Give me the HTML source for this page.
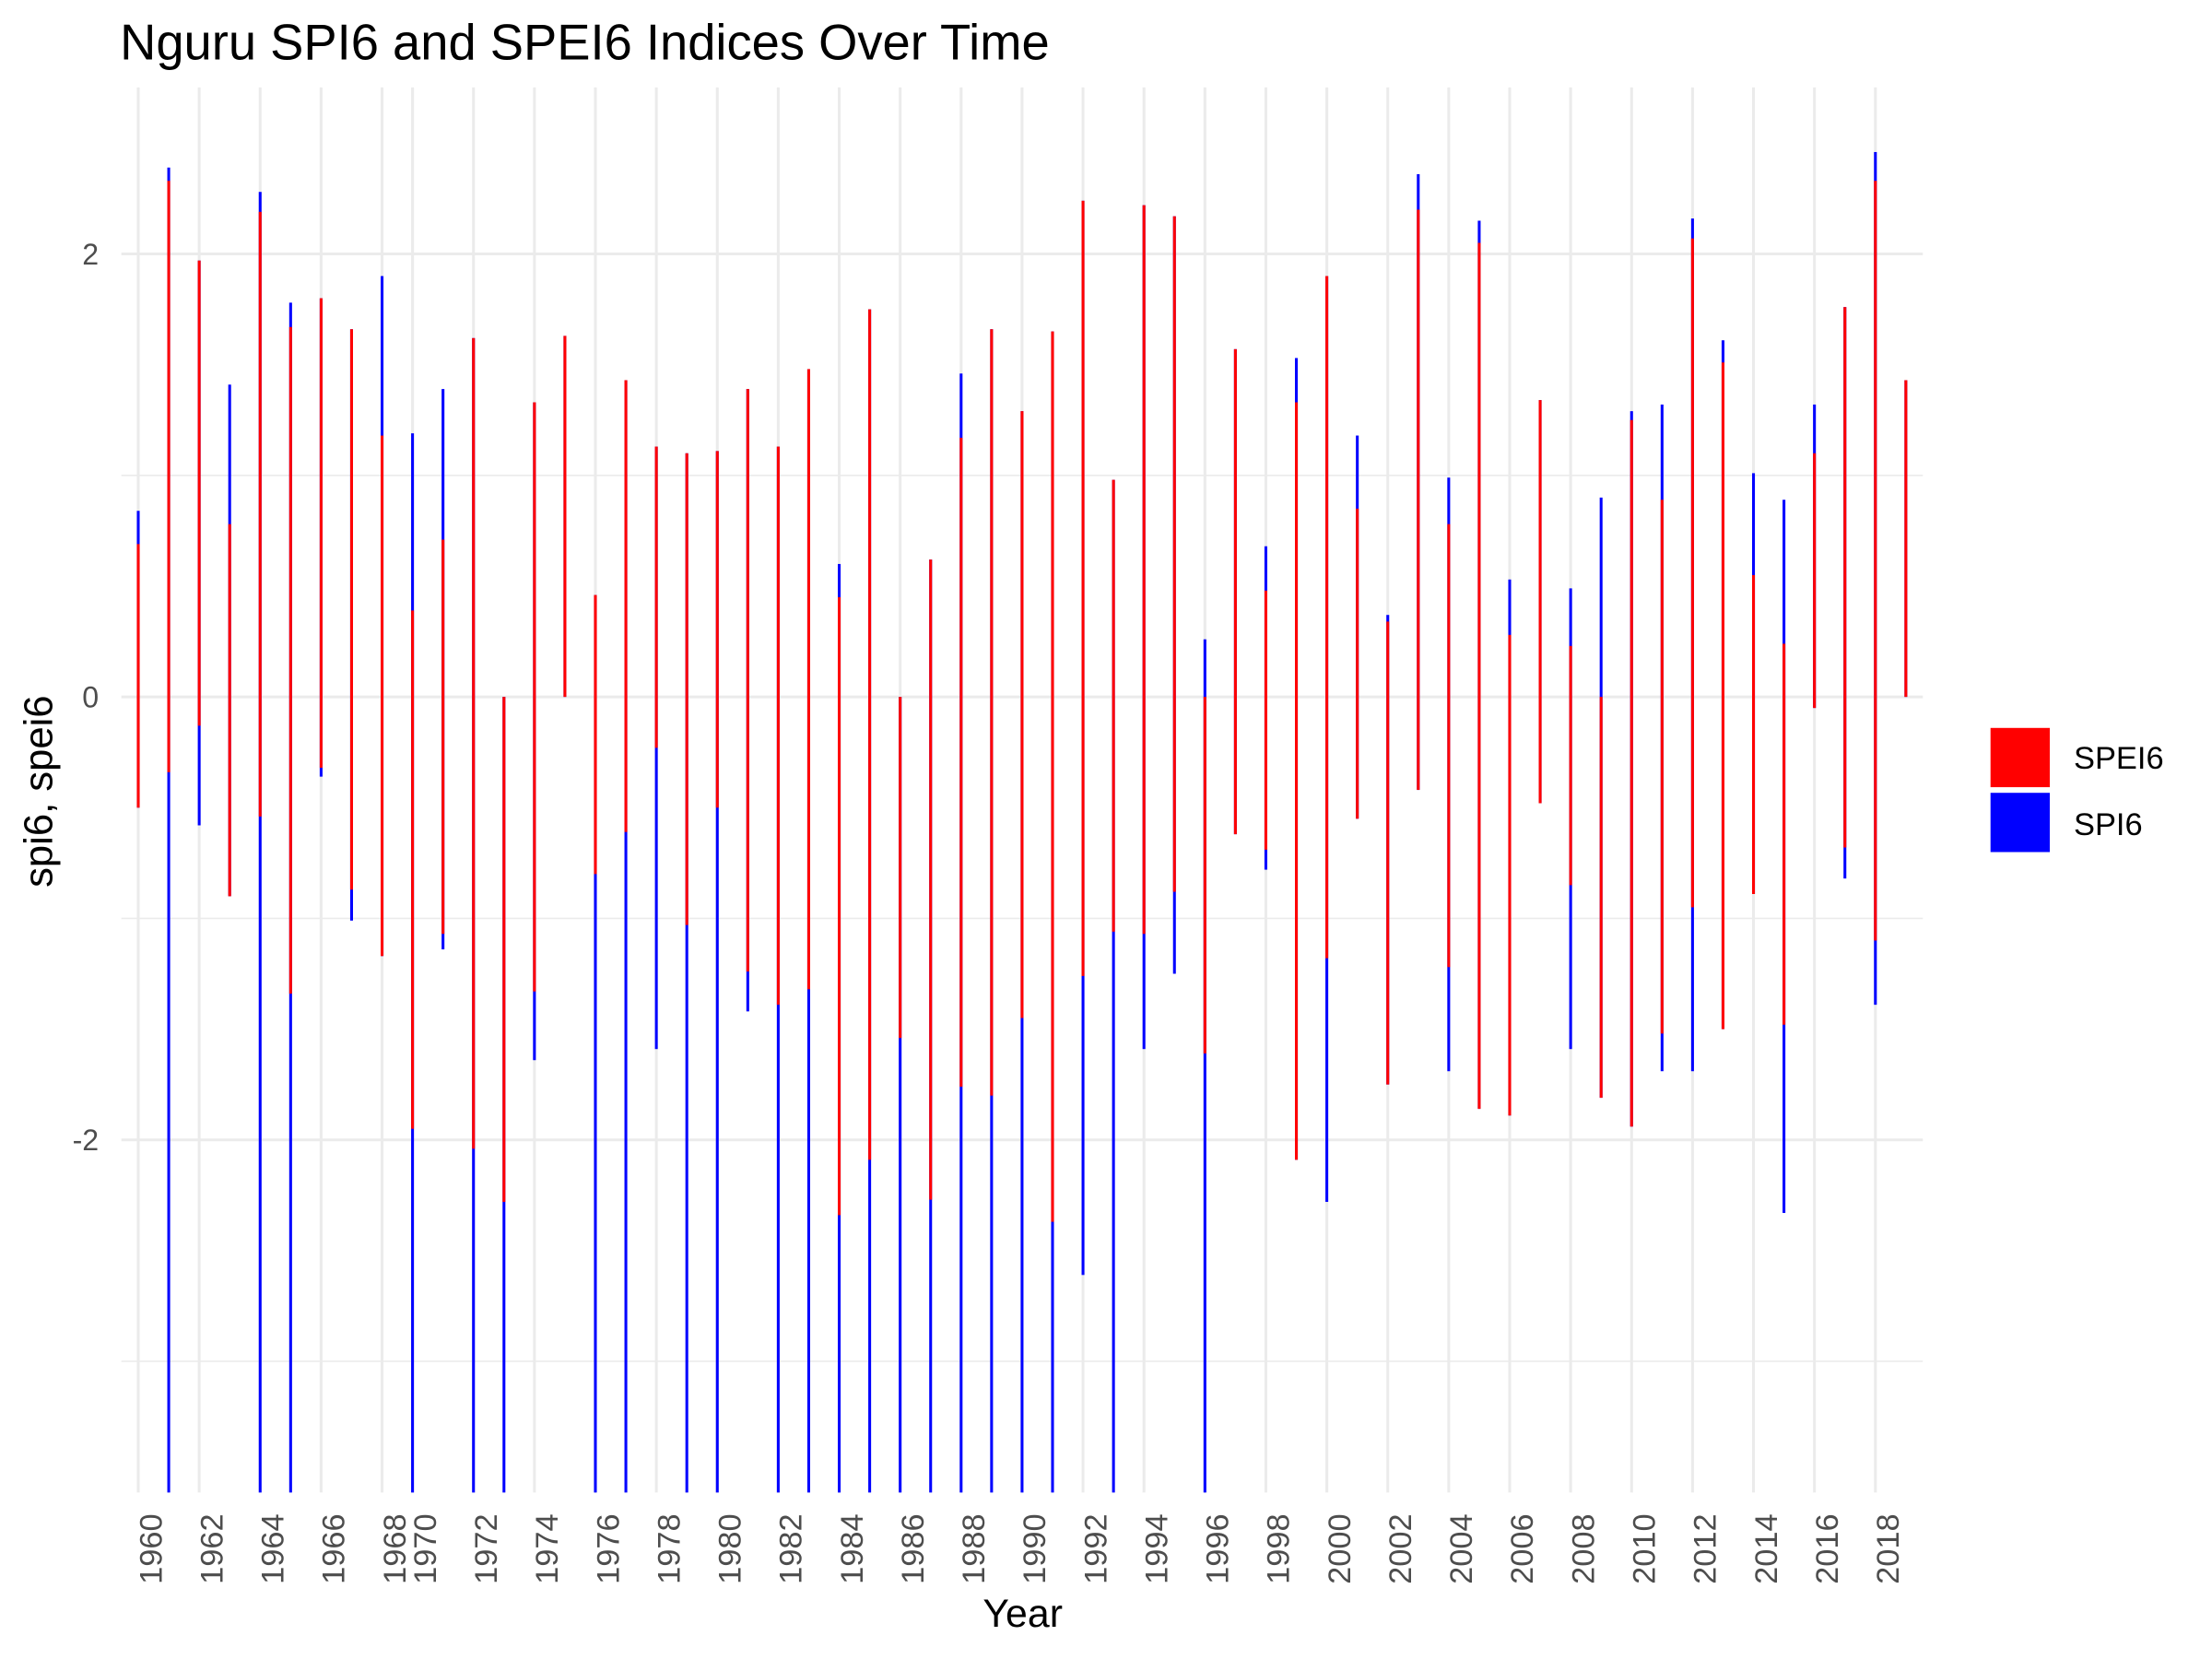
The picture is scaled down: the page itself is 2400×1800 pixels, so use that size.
<!DOCTYPE html>
<html><head><meta charset="utf-8"><style>
html,body{margin:0;padding:0;background:#fff;}
svg{display:block;font-family:"Liberation Sans",Arial,sans-serif;}
</style></head><body>
<svg width="2400" height="1800" viewBox="0 0 1568 1176" xmlns="http://www.w3.org/2000/svg">
<defs><clipPath id="pc"><rect x="86" y="62" width="1277" height="996"/></clipPath></defs>
<text x="85" y="42" font-size="35.5" fill="#000">Nguru SPI6 and SPEI6 Indices Over Time</text>
<g id="grid"></g>
<g id="bars" clip-path="url(#pc)"></g>
<g id="yticks"></g>
<g id="xticks"></g>
<text transform="translate(37,561) rotate(-90)" text-anchor="middle" font-size="28.5" fill="#000">spi6, spei6</text>
<text x="725" y="1153" text-anchor="middle" font-size="28" fill="#000">Year</text>
<g>
<rect x="1411" y="516" width="42" height="42" fill="#ff0000"/>
<text x="1470" y="545" font-size="22.5" fill="#000">SPEI6</text>
<rect x="1411" y="562" width="42" height="42" fill="#0000ff"/>
<text x="1470" y="592" font-size="22.5" fill="#000">SPI6</text>
</g>
</svg>
<script>
const speiHi=[0.69,2.33,1.97,0.78,2.19,1.67,1.80,1.66,1.18,0.39,0.71,1.62,0,1.33,1.63,0.46,1.43,1.13,1.10,1.11,1.39,1.13,1.48,0.45,1.75,0,0.62,1.17,1.66,1.29,1.65,2.24,0.98,2.22,2.17,0,1.57,0.48,1.33,1.90,0.85,0.34,2.20,0.78,2.05,0.28,1.34,0.23,0,1.25,0.89,2.07,1.51,0.55,0.24,1.10,1.76,2.33,1.43];
const speiLo=[-0.50,-0.34,-0.13,-0.90,-0.54,-1.34,-0.32,-0.87,-1.17,-1.95,-1.07,-2.04,-2.28,-1.33,0,-0.80,-0.61,-0.23,-1.03,-0.50,-1.24,-1.39,-1.32,-2.34,-2.09,-1.54,-2.27,-1.76,-1.80,-1.45,-2.37,-1.26,-1.06,-1.07,-0.88,-1.61,-0.62,-0.69,-2.09,-1.18,-0.55,-1.75,-0.42,-1.22,-1.86,-1.89,-0.48,-0.85,-1.81,-1.94,-1.52,-0.95,-1.50,-0.89,-1.48,-0.05,-0.68,-1.10,0];
const spiHi=[0.84,2.39,1.97,1.41,2.28,1.78,1.80,1.66,1.90,1.19,1.39,1.62,0,1.33,1.63,0.46,1.43,1.13,1.10,1.11,1.39,1.13,1.48,0.60,1.75,0,0.62,1.46,1.66,1.29,1.65,2.24,0.98,2.22,2.17,0.26,1.57,0.68,1.53,1.90,1.18,0.37,2.36,0.99,2.15,0.53,1.34,0.49,0.90,1.29,1.32,2.16,1.61,1.01,0.89,1.32,1.76,2.46,1.43];
const spiLo=[-0.50,-4,-0.58,-0.90,-4,-4,-0.36,-1.01,-1.17,-4,-1.14,-4,-4,-1.64,0,-4,-4,-1.59,-4,-4,-1.42,-4,-4,-4,-4,-4,-4,-4,-4,-4,-4,-2.61,-4,-1.59,-1.25,-4,-0.62,-0.78,-2.09,-2.28,-0.55,-1.75,-0.42,-1.69,-1.86,-1.89,-0.48,-1.59,-1.81,-1.94,-1.69,-1.69,-1.50,-0.89,-2.33,-0.05,-0.82,-1.39,0];
const xTickIdx=[0,2,4,6,8,9,11,13,15,17,19,21,23,25,27,29,31,33,35,37,39,41,43,45,47,49,51,53,55,57];
const xTickLabels=["1960","1962","1964","1966","1968","1970","1972","1974","1976","1978","1980","1982","1984","1986","1988","1990","1992","1994","1996","1998","2000","2002","2004","2006","2008","2010","2012","2014","2016","2018"];
const yTicks=[-2,0,2];
const yMinor=[-3,-1,1];

const NS="http://www.w3.org/2000/svg";
const xS=i=>98+i*(1351-98)/58;
const yS=v=>494-v*157;
function mk(tag,attrs,parent){const e=document.createElementNS(NS,tag);for(const k in attrs)e.setAttribute(k,attrs[k]);parent.appendChild(e);return e;}
const grid=document.getElementById('grid'),bars=document.getElementById('bars');
yMinor.forEach(v=>{const l=mk('line',{x1:86,x2:1363,y1:yS(v),y2:yS(v),stroke:'#ebebeb','stroke-width':1},grid);

});
yTicks.forEach(v=>{const l=mk('line',{x1:86,x2:1363,y1:yS(v),y2:yS(v),stroke:'#ebebeb','stroke-width':2},grid);

});
xTickIdx.forEach(i=>{const l=mk('line',{x1:xS(i),x2:xS(i),y1:62,y2:1058,stroke:'#ebebeb','stroke-width':2},grid);

});
spiHi.forEach((h,i)=>{const r=mk('rect',{x:xS(i)-1,y:yS(h),width:2,height:Math.max(0,yS(spiLo[i])-yS(h)),fill:'#0000ff'},bars);

});
speiHi.forEach((h,i)=>{const r=mk('rect',{x:xS(i)-1,y:yS(h),width:2,height:Math.max(0,yS(speiLo[i])-yS(h)),fill:'#ff0000'},bars);

});
const yt=document.getElementById('yticks');
yTicks.forEach(v=>{const t=mk('text',{x:70,y:yS(v)+7.5,'text-anchor':'end','font-size':21,fill:'#4d4d4d'},yt);t.textContent=String(v);

});
const xt=document.getElementById('xticks');
xTickIdx.forEach((idx,k)=>{const x=xS(idx)+16.5;const t=mk('text',{transform:`translate(${x},1073) rotate(-90)`,'text-anchor':'end','font-size':22.5,fill:'#4d4d4d'},xt);t.textContent=xTickLabels[k];

});
</script>
</body></html>
